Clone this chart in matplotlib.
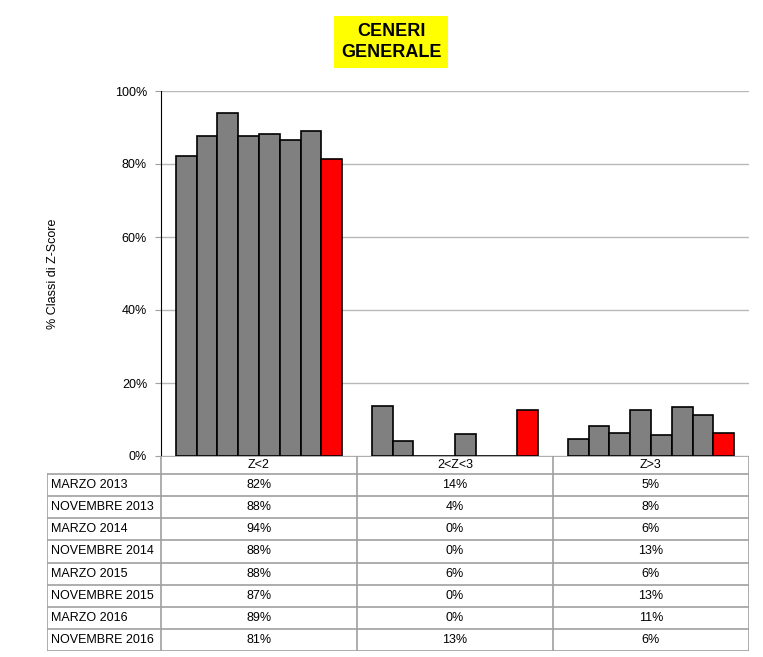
import numpy as np
import matplotlib.pyplot as plt
from matplotlib.ticker import PercentFormatter

plt.rcParams['font.family'] = ['Liberation Sans', 'DejaVu Sans']

categories = ['Z<2', '2<Z<3', 'Z>3']
sessions = ['MARZO 2013', 'NOVEMBRE 2013', 'MARZO 2014', 'NOVEMBRE 2014',
            'MARZO 2015', 'NOVEMBRE 2015', 'MARZO 2016', 'NOVEMBRE 2016']
# % per sessione, una lista per classe di Z-score
z_lt2 = [82.2, 87.6, 94.0, 87.6, 88.2, 86.7, 89.0, 81.3]
z_2_3 = [13.7, 4.1, 0.0, 0.0, 5.9, 0.0, 0.0, 12.6]
z_gt3 = [4.6, 8.2, 6.3, 12.6, 5.8, 13.4, 11.2, 6.3]
values = np.array([z_lt2, z_2_3, z_gt3])  # classi x sessioni

W, H = 763, 657
fig = plt.figure(figsize=(W / 100, H / 100), dpi=100)

def fig_rect(x0, y0, x1, y1):
    return [x0 / W, 1 - y1 / H, (x1 - x0) / W, (y1 - y0) / H]

# ── grafico a barre ──
ax = fig.add_axes(fig_rect(161, 91, 749, 456))
n = len(sessions)
group_w = 0.85
bw = group_w / n
x = np.arange(len(categories))
for i in range(n):
    col = 'red' if i == n - 1 else '#808080'
    ax.bar(x - group_w / 2 + bw * (i + 0.5), values[:, i], width=bw,
           color=col, edgecolor='black', linewidth=1.2, zorder=3)

ax.set_xlim(-0.5, 2.5)
ax.set_ylim(0, 100)
ax.set_yticks(range(0, 101, 20))
ax.yaxis.set_major_formatter(PercentFormatter(decimals=0))
ax.tick_params(axis='y', labelsize=9, length=4, color='#a0a0a0', pad=6)
ax.set_xticks([])
ax.grid(True, axis='y', color='#b8b8b8', linewidth=1, zorder=0)
for s in ['top', 'right', 'bottom']:
    ax.spines[s].set_visible(False)
ax.spines['left'].set_color('black')
ax.set_ylabel('% Classi di Z-Score', fontsize=9, labelpad=40)

# ── tabella dati ──
tab = fig.add_axes(fig_rect(47, 456, 749, 651))
label_w = 114 / 196
tab.set_xlim(-0.5 - label_w, 2.5)
header_h = 18 / 22
tab.set_ylim(n + header_h, 0)
tab.axis('off')
gc = '#a0a0a0'
lw = 1.2
# linee orizzontali
tab.plot([-0.5, 2.5], [0, 0], color=gc, lw=lw)
for r in range(n + 1):
    yy = header_h + r
    tab.plot([-0.5 - label_w, 2.5], [yy, yy], color=gc, lw=lw)
# linee verticali
tab.plot([-0.5 - label_w] * 2, [header_h, n + header_h], color=gc, lw=lw)
for c in range(len(categories) + 1):
    tab.plot([c - 0.5] * 2, [0, n + header_h], color=gc, lw=lw)

for c, cat in enumerate(categories):
    tab.text(c, header_h / 2, cat, ha='center', va='center', fontsize=9)
for r, s in enumerate(sessions):
    yy = header_h + r + 0.5
    tab.text(-0.5 - label_w + 0.02, yy, s, ha='left', va='center', fontsize=9)
    for c in range(len(categories)):
        tab.text(c, yy, f'{values[c, r]:.0f}%', ha='center', va='center', fontsize=9)

# ── titolo ──
fig.text(391 / W, 1 - 42 / H, 'CENERI\nGENERALE', ha='center', va='center',
         fontsize=13, fontweight='bold', linespacing=1.25,
         bbox=dict(boxstyle='square,pad=0.4', facecolor='yellow', edgecolor='none'))

fig.savefig('out.png', dpi=100)
